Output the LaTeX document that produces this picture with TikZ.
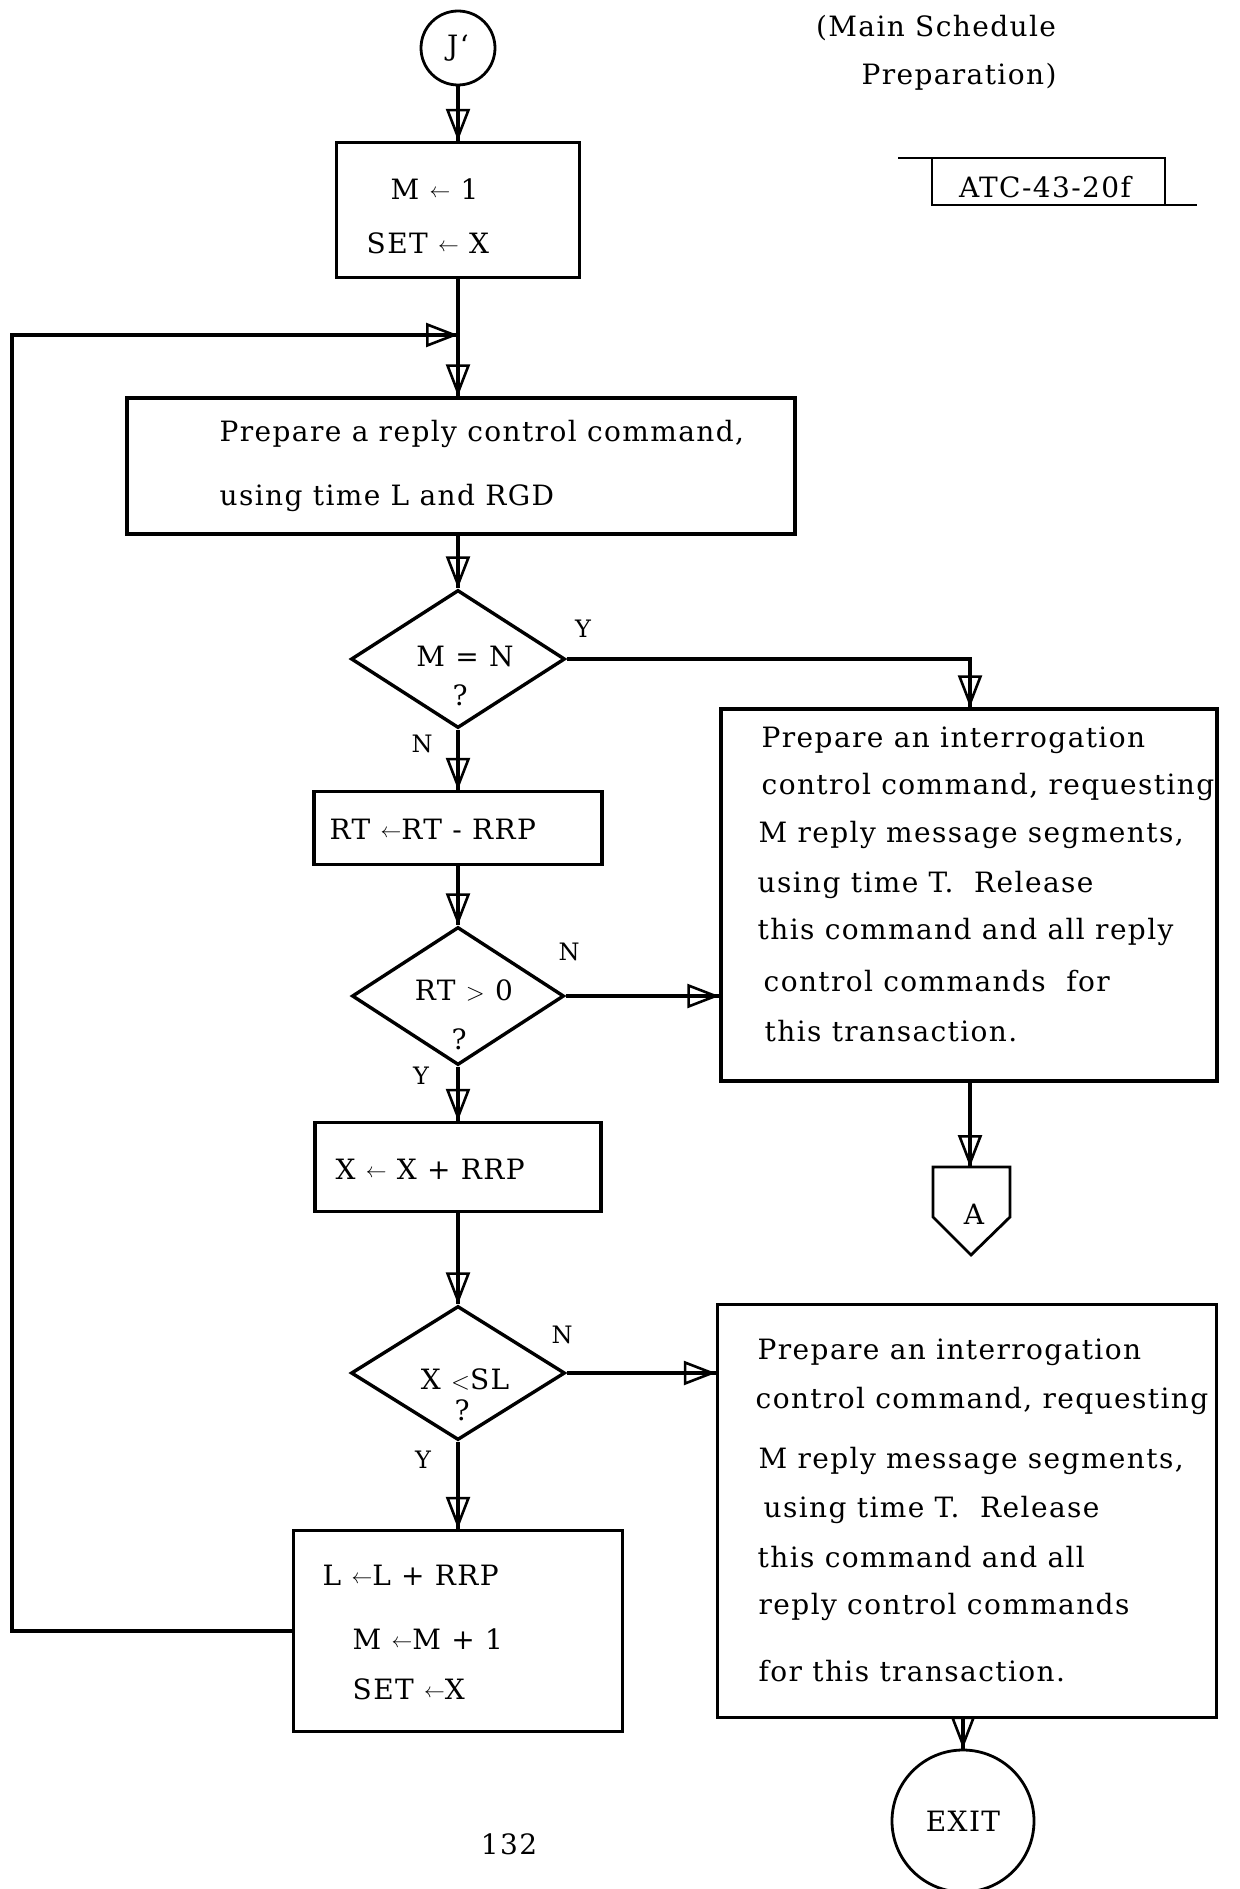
\documentclass[tikz,border=0pt]{standalone}
\usepackage{fontspec}
\setmainfont{DejaVu Serif}[LetterSpace=5]
\usetikzlibrary{shapes.geometric,arrows.meta,decorations.markings}
\newcommand{\lar}{\raisebox{1.5pt}{\fontsize{22}{22}\selectfont$\leftarrow$}}
\begin{document}
\begin{tikzpicture}[x=1pt,y=-1pt,line width=3.4pt,
  box/.style={draw,rectangle,inner sep=0pt},
  dec/.style={draw,diamond,inner sep=0pt},
  txt/.style={font=\fontsize{28}{34}\selectfont,inner sep=0pt,anchor=west},
  ctxt/.style={font=\fontsize{28}{34}\selectfont,inner sep=0pt},
  lbl/.style={font=\fontsize{24}{28}\selectfont,inner sep=0pt},
  arr/.style={postaction={decorate},decoration={markings,mark=at position 1 with {\arrow[line width=2.6pt]{Triangle[open,length=32pt,width=24pt]}}}}]
\useasboundingbox (0,0) rectangle (1239,1889);
% header
\node[ctxt] (h1) at (936,28) {(Main Schedule};
\node[ctxt] (h2) at (959,77) {Preparation)};
\node[ctxt] (atc) at (1045,187) {ATC-43-20f};
\draw[line width=2.4pt] (898,158) -- (1165,158) -- (1165,205);
\draw[line width=2.4pt] (932,158) -- (932,205) -- (1197,205);
% main column
\node[circle,draw,line width=2.8pt,minimum size=74pt,inner sep=0pt,font=\fontsize{28}{34}\selectfont] (J) at (458,48) {J`};
\node[box,minimum width=243pt,minimum height=135pt] (b1) at (458,210) {};
\node[txt] (t1a) at (389,189) {M \lar{} 1};
\node[txt] (t1b) at (365,243) {SET \lar{} X};
\node[box,minimum width=668pt,minimum height=136pt] (b2) at (461,466) {};
\node[txt] (t2a) at (218,434) {Prepare a reply control command,};
\node[txt] (t2b) at (218,498) {using time L and RGD};
\node[dec,minimum width=214pt,minimum height=138pt] (d1) at (458,659) {};
\node[ctxt] (d1a) at (465,656) {M = N};
\node[ctxt] (d1b) at (460,695) {?};
\node[lbl] (y1) at (583,629) {Y};
\node[lbl] (n1) at (422,744) {N};
\node[box,minimum width=288pt,minimum height=73pt] (b3) at (458,828) {};
\node[txt] (t3) at (328,829) {RT \lar{}RT - RRP};
\node[dec,minimum width=212pt,minimum height=138pt] (d2) at (458,996) {};
\node[ctxt] (d2a) at (464,990) {RT $>$ 0};
\node[ctxt] (d2b) at (459,1039) {?};
\node[lbl] (n2) at (569,952) {N};
\node[lbl] (y2) at (421,1076) {Y};
\node[box,minimum width=286pt,minimum height=89pt] (b4) at (458,1167) {};
\node[txt] (t4) at (334,1169) {X \lar{} X + RRP};
\node[dec,minimum width=214pt,minimum height=134pt] (d3) at (458,1373) {};
\node[ctxt] (d3a) at (465,1379) {X $<$SL};
\node[ctxt] (d3b) at (462,1410) {?};
\node[lbl] (n3) at (562,1335) {N};
\node[lbl] (y3) at (423,1460) {Y};
\node[box,minimum width=329pt,minimum height=201pt] (b5) at (458,1631) {};
\node[txt] (t5a) at (321,1575) {L \lar{}L + RRP};
\node[txt] (t5b) at (351,1639) {M \lar{}M + 1};
\node[txt] (t5c) at (351,1689) {SET \lar{}X};
% right column
\node[box,minimum width=496pt,minimum height=372pt] (r1) at (969,895) {};
\node[txt] (r1a) at (760,740) {Prepare an interrogation};
\node[txt] (r1b) at (760,787) {control command, requesting};
\node[txt] (r1c) at (757,835) {M reply message segments,};
\node[txt] (r1d) at (756,885) {using time T.\ \ Release};
\node[txt] (r1e) at (756,932) {this command and all reply};
\node[txt] (r1f) at (762,981) {control commands\ \ for};
\node[txt] (r1g) at (763,1031) {this transaction.};
\draw[line width=2.8pt] (933,1167) -- (1010,1167) -- (1010,1217) -- (971,1255) -- (933,1217) -- cycle;
\coordinate (Atop) at (970,1167);
\node[ctxt] (A) at (974,1214) {A};
\node[box,minimum width=499pt,minimum height=413pt] (r2) at (967,1511) {};
\node[txt] (r2a) at (756,1352) {Prepare an interrogation};
\node[txt] (r2b) at (754,1401) {control command, requesting};
\node[txt] (r2c) at (757,1461) {M reply message segments,};
\node[txt] (r2d) at (762,1510) {using time T.\ \ Release};
\node[txt] (r2e) at (756,1557) {this command and all};
\node[txt] (r2f) at (757,1607) {reply control commands};
\node[txt] (r2g) at (757,1671) {for this transaction.};
\node[circle,draw,line width=2.8pt,minimum size=142pt,inner sep=0pt,font=\fontsize{28}{34}\selectfont] (exit) at (963,1821) {EXIT};
\node[ctxt] (pg) at (509,1844) {132};
% connectors
\coordinate (loopB) at (12,1631);
\coordinate (loopT) at (12,335);
\coordinate (merge) at (458,335);
\draw[arr] (J.south) -- (b1.north);
\draw[arr] (b1.south) -- (b1.south |- b2.north);
\draw[arr] (b5.west) -- (loopB) -- (loopT) -- (merge);
\draw[arr] (b2.south -| d1.north) -- (d1.north);
\draw[arr] (d1.south) -- (b3.north);
\draw[arr] (b3.south) -- (d2.north);
\draw[arr] (d2.south) -- (b4.north);
\draw[arr] (b4.south) -- (d3.north);
\draw[arr] (d3.south) -- (b5.north);
\draw[arr] (d1.east) -| (r1.north -| Atop);
\draw[arr] (d2.east) -- (d2.east -| r1.west);
\draw[arr] (d3.east) -- (d3.east -| r2.west);
\draw[arr] (r1.south -| Atop) -- (Atop);
\draw[arr] (r2.south -| exit.north) -- (exit.north);
\end{tikzpicture}
\end{document}
